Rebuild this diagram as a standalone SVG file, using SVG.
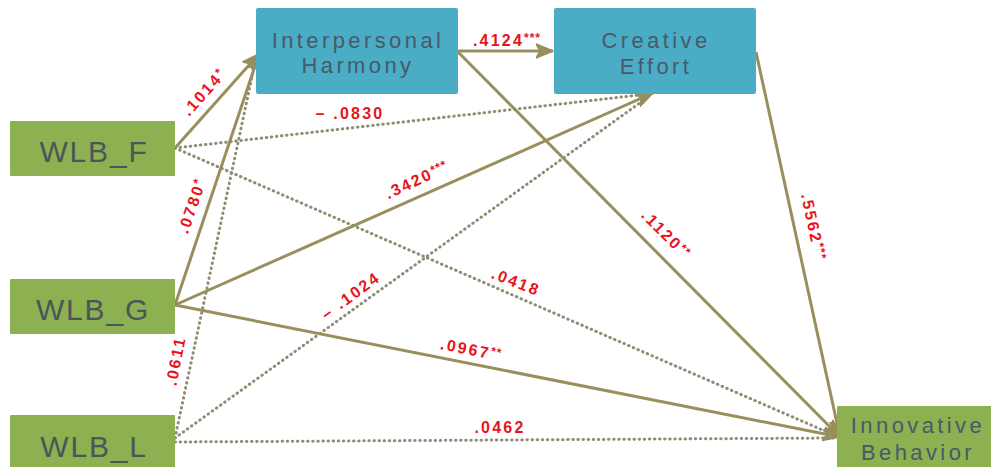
<svg xmlns="http://www.w3.org/2000/svg" width="991" height="467" viewBox="0 0 991 467">
<style>
.solid{stroke:#998f5c;stroke-width:3;fill:none}
.dot{stroke:#8f8d74;stroke-width:3;fill:none;stroke-dasharray:0.5 4.6;stroke-linecap:round}
.blue{fill:#4bacc6}
.green{fill:#8db050}
.nt{font-family:"Liberation Sans",Arial,sans-serif;fill:#4a5659;text-anchor:middle}
.bt{font-size:22px;letter-spacing:3.4px;fill:#475a69}
.gt{font-size:30px;letter-spacing:1.8px}
.lb{font-family:"Liberation Sans",Arial,sans-serif;font-size:16px;font-weight:bold;fill:#e8141c;text-anchor:middle;letter-spacing:2.2px}
.st{font-size:12px;letter-spacing:1px}
</style>
<defs>
<marker id="ah" markerUnits="userSpaceOnUse" markerWidth="20" markerHeight="16" refX="17" refY="8" orient="auto">
<path d="M0,1 L17,8 L0,15 L4,8 z" fill="#998f5c" stroke="#998f5c" stroke-width="1.5" stroke-linejoin="round"/>
</marker>
</defs>
<g id="connectors">
<line class="solid" x1="175" y1="148" x2="259" y2="54" marker-end="url(#ah)"/>
<line class="solid" x1="175" y1="305" x2="259" y2="54" marker-end="url(#ah)"/>
<line class="dot" x1="175" y1="438" x2="256" y2="58"/>
<line class="dot" x1="175" y1="148" x2="648" y2="94"/>
<line class="solid" x1="175" y1="305" x2="653" y2="93" marker-end="url(#ah)"/>
<line class="dot" x1="175" y1="438" x2="648" y2="97"/>
<line class="solid" x1="458" y1="51" x2="553" y2="51" marker-end="url(#ah)"/>
<line class="solid" x1="458" y1="52" x2="840" y2="437" marker-end="url(#ah)"/>
<line class="solid" x1="756" y1="52" x2="840" y2="437" marker-end="url(#ah)"/>
<line class="dot" x1="175" y1="148" x2="834" y2="435"/>
<line class="solid" x1="175" y1="305" x2="840" y2="437" marker-end="url(#ah)"/>
<line class="dot" x1="175" y1="442" x2="834" y2="438"/>
</g>
<g id="node-ih">
<rect class="blue" x="256" y="8" width="202" height="86" rx="2"/>
<text class="nt bt" x="358" y="48">Interpersonal</text>
<text class="nt bt" x="358" y="73">Harmony</text>
</g>
<g id="node-ce">
<rect class="blue" x="554" y="8" width="202" height="86" rx="2"/>
<text class="nt bt" x="656" y="48">Creative</text>
<text class="nt bt" x="656" y="74">Effort</text>
</g>
<g id="node-wlbf">
<rect class="green" x="10" y="121" width="165" height="55" rx="1"/>
<text class="nt gt" x="94" y="162">WLB_F</text>
</g>
<g id="node-wlbg">
<rect class="green" x="10" y="279" width="165" height="55" rx="1"/>
<text class="nt gt" x="93" y="320">WLB_G</text>
</g>
<g id="node-wlbl">
<rect class="green" x="10" y="415" width="165" height="60" rx="1"/>
<text class="nt gt" x="94" y="457">WLB_L</text>
</g>
<g id="node-ib">
<rect class="green" x="837" y="406" width="160" height="65" rx="1"/>
<text class="nt bt" x="918" y="433">Innovative</text>
<text class="nt bt" x="918" y="460">Behavior</text>
</g>
<g id="labels">
<text class="lb" transform="translate(208,96) rotate(-48)">.1014<tspan class="st" dy="-4">*</tspan></text>
<text class="lb" x="350" y="119">– .0830</text>
<text class="lb" transform="translate(419,185) rotate(-25)">.3420<tspan class="st" dy="-4">***</tspan></text>
<text class="lb" transform="translate(197,208) rotate(-71)">.0780<tspan class="st" dy="-4">*</tspan></text>
<text class="lb" x="507" y="46">.4124<tspan class="st" dy="-4">***</tspan></text>
<text class="lb" transform="translate(662,238) rotate(45)">.1120<tspan class="st" dy="-4">**</tspan></text>
<text class="lb" transform="translate(808,228) rotate(78)">.5562<tspan class="st" dy="-4">***</tspan></text>
<text class="lb" transform="translate(514,287) rotate(21)">.0418</text>
<text class="lb" transform="translate(354,300) rotate(-36)">– .1024</text>
<text class="lb" transform="translate(470,355) rotate(11)">.0967<tspan class="st" dy="-4">**</tspan></text>
<text class="lb" transform="translate(181,362) rotate(-79)">.0611</text>
<text class="lb" x="500" y="433">.0462</text>
</g>
</svg>
